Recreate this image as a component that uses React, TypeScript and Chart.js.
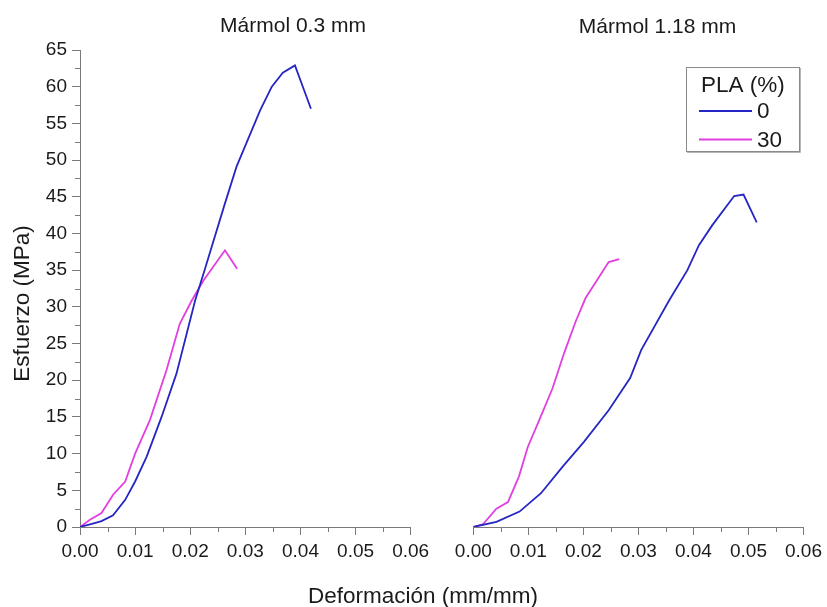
import { useEffect, useRef } from "react";
import { Chart, registerables } from "chart.js";

Chart.register(...registerables);

const FONT = '"Liberation Sans", Arial, Helvetica, sans-serif';
const INK = "#1a1a1a";
const AXIS = "#7a7a7a";

const SERIES_LABELS = ["0", "30"];
const SERIES_COLORS = ["#2626c4", "#e23fe0"];
const LEGEND_TITLE = "PLA (%)";

const PANEL_TITLES = ["Mármol 0.3 mm", "Mármol 1.18 mm"];
const X_TITLE = "Deformación (mm/mm)";
const Y_TITLE = "Esfuerzo (MPa)";

const X_TICKS = [0, 0.01, 0.02, 0.03, 0.04, 0.05, 0.06];
const Y_TICKS = [0, 5, 10, 15, 20, 25, 30, 35, 40, 45, 50, 55, 60, 65];

// Mármol 0.3 mm — PLA 0 %
const strainA0 = [0, 0.002, 0.0039, 0.006, 0.0082, 0.01, 0.0121, 0.0148, 0.0175, 0.0209, 0.0226, 0.0263, 0.0284, 0.0327, 0.0348, 0.0368, 0.039, 0.0419];
const stressA0 = [0, 0.4, 0.8, 1.6, 3.7, 6.2, 9.6, 15.0, 20.9, 30.9, 35.0, 44.1, 49.1, 56.8, 60.0, 61.9, 62.9, 57.0];

// Mármol 0.3 mm — PLA 30 %
const strainA30 = [0, 0.0018, 0.0039, 0.006, 0.0082, 0.01, 0.0127, 0.0157, 0.0181, 0.0203, 0.0224, 0.0263, 0.0285];
const stressA30 = [0, 1.0, 1.9, 4.4, 6.2, 10.0, 14.6, 21.4, 27.7, 30.9, 33.6, 37.7, 35.2];

// Mármol 1.18 mm — PLA 0 %
const strainB0 = [0, 0.0042, 0.0084, 0.0123, 0.0162, 0.0201, 0.0246, 0.0285, 0.0305, 0.0356, 0.0389, 0.041, 0.0434, 0.0474, 0.0491, 0.0515];
const stressB0 = [0, 0.7, 2.1, 4.6, 8.2, 11.6, 15.9, 20.3, 24.1, 30.9, 35.0, 38.4, 41.1, 45.1, 45.3, 41.5];

// Mármol 1.18 mm — PLA 30 %
const strainB30 = [0, 0.0018, 0.0042, 0.0063, 0.0083, 0.0099, 0.012, 0.0144, 0.0165, 0.0186, 0.0204, 0.0246, 0.0265];
const stressB30 = [0, 0.4, 2.5, 3.4, 6.9, 10.9, 14.6, 18.9, 23.7, 28.0, 31.2, 36.1, 36.5];

const W = 827;
const H = 607;

const points = (xs: number[], ys: number[]) => xs.map((x, i) => ({ x, y: ys[i] }));

const makeDatasets = (curves: [number[], number[]][]) =>
  curves.map(([xs, ys], i) => ({
    label: SERIES_LABELS[i],
    data: points(xs, ys),
    borderColor: SERIES_COLORS[i],
    backgroundColor: SERIES_COLORS[i],
    borderWidth: 1.8,
    pointRadius: 0,
    tension: 0,
    fill: false,
  }));

// Half-step tick marks between the labelled ticks
const minorTicks = {
  id: "minorTicks",
  afterDraw(chart: any, _args: any, opts: any) {
    const ctx = chart.ctx;
    ctx.save();
    ctx.strokeStyle = AXIS;
    ctx.lineWidth = 1;
    const xs = chart.scales.x;
    const area = chart.chartArea;
    for (let i = 0; i < X_TICKS.length - 1; i++) {
      const v = (X_TICKS[i] + X_TICKS[i + 1]) / 2;
      const px = Math.round(xs.getPixelForValue(v)) + 0.5;
      ctx.beginPath();
      ctx.moveTo(px, area.bottom);
      ctx.lineTo(px, area.bottom + opts.length);
      ctx.stroke();
    }
    if (opts.yAxis) {
      const ys = chart.scales.y;
      for (let i = 0; i < Y_TICKS.length - 1; i++) {
        const v = (Y_TICKS[i] + Y_TICKS[i + 1]) / 2;
        const py = Math.round(ys.getPixelForValue(v)) + 0.5;
        ctx.beginPath();
        ctx.moveTo(area.left, py);
        ctx.lineTo(area.left - opts.length, py);
        ctx.stroke();
      }
    }
    ctx.restore();
  },
};

// Free text: panel titles and the shared axis titles
const labels = {
  id: "labels",
  afterDraw(chart: any, _args: any, opts: any) {
    const ctx = chart.ctx;
    ctx.save();
    ctx.fillStyle = INK;
    for (const t of opts.items || []) {
      ctx.save();
      ctx.font = `${t.size}px ${FONT}`;
      ctx.textAlign = "center";
      ctx.textBaseline = t.baseline || "alphabetic";
      ctx.translate(t.x, t.y);
      if (t.rotate) ctx.rotate(t.rotate);
      ctx.fillText(t.text, 0, 0);
      ctx.restore();
    }
    ctx.restore();
  },
};

// Boxed legend with a title line
const boxedLegend = {
  id: "boxedLegend",
  afterDraw(chart: any, _args: any, opts: any) {
    if (!opts.show) return;
    const ctx = chart.ctx;
    const { left, top, width, height } = opts;
    ctx.save();
    ctx.fillStyle = "#ffffff";
    ctx.fillRect(left, top, width, height);
    ctx.strokeStyle = "#8a8a8a";
    ctx.lineWidth = 1;
    ctx.strokeRect(left + 0.5, top + 0.5, width, height);
    ctx.strokeStyle = "#b5b5b5";
    ctx.beginPath();
    ctx.moveTo(left + 1, top + height + 1.5);
    ctx.lineTo(left + width + 1.5, top + height + 1.5);
    ctx.lineTo(left + width + 1.5, top + 1);
    ctx.stroke();

    ctx.fillStyle = INK;
    ctx.font = `${opts.fontSize}px ${FONT}`;
    ctx.textBaseline = "alphabetic";
    ctx.textAlign = "left";
    ctx.fillText(LEGEND_TITLE, left + 15, top + 25);

    chart.data.datasets.forEach((ds: any, i: number) => {
      const cy = top + 44 + i * 28.5;
      ctx.strokeStyle = ds.borderColor;
      ctx.lineWidth = 2;
      ctx.beginPath();
      ctx.moveTo(left + 13, cy);
      ctx.lineTo(left + 66, cy);
      ctx.stroke();
      ctx.fillStyle = INK;
      ctx.textBaseline = "middle";
      ctx.fillText(ds.label, left + 71, cy + 1);
    });
    ctx.restore();
  },
};

function buildConfig(panel: 0 | 1): any {
  const isLeft = panel === 0;
  const curves: [number[], number[]][] = isLeft
    ? [
        [strainA0, stressA0],
        [strainA30, stressA30],
      ]
    : [
        [strainB0, stressB0],
        [strainB30, stressB30],
      ];

  const tickFont = { family: FONT, size: 19 };

  const items: any[] = [
    isLeft
      ? { text: PANEL_TITLES[0], x: 293, y: 32, size: 21 }
      : { text: PANEL_TITLES[1], x: 657.5, y: 33, size: 21 },
  ];
  if (isLeft) {
    items.push({ text: X_TITLE, x: 423, y: 603, size: 22.5 });
    items.push({ text: Y_TITLE, x: 29, y: 303.5, size: 22.5, rotate: -Math.PI / 2 });
  }

  const yScale: any = {
    type: "linear",
    display: isLeft,
    min: 0,
    max: 65,
    afterBuildTicks: (s: any) => {
      s.ticks = Y_TICKS.map((v) => ({ value: v }));
    },
    ticks: {
      font: tickFont,
      color: INK,
      padding: 5,
      autoSkip: false,
    },
    grid: {
      display: true,
      drawOnChartArea: false,
      drawTicks: true,
      tickLength: 8,
      color: AXIS,
    },
    border: { display: true, color: AXIS, width: 1 },
  };
  if (isLeft) {
    yScale.afterFit = (s: any) => {
      s.width = 80;
    };
  }

  return {
    type: "line",
    data: { datasets: makeDatasets(curves) },
    plugins: [minorTicks, labels, boxedLegend],
    options: {
      responsive: false,
      animation: false,
      events: [],
      layout: {
        padding: isLeft
          ? { left: 0, top: 50, right: W - 410.7, bottom: 40 }
          : { left: 473.3, top: 50, right: W - 807.3, bottom: 40 },
      },
      scales: {
        x: {
          type: "linear",
          min: 0,
          max: 0.06,
          afterBuildTicks: (s: any) => {
            s.ticks = X_TICKS.map((v) => ({ value: v }));
          },
          ticks: {
            callback: (v: any) => Number(v).toFixed(2),
            font: tickFont,
            color: INK,
            padding: 5,
            maxRotation: 0,
            autoSkip: false,
          },
          grid: {
            display: true,
            drawOnChartArea: false,
            drawTicks: true,
            tickLength: 8,
            color: AXIS,
          },
          border: { display: true, color: AXIS, width: 1 },
          afterFit: (s: any) => {
            s.height = 40;
          },
        },
        y: yScale,
      },
      plugins: {
        legend: { display: false },
        tooltip: { enabled: false },
        title: { display: false },
        minorTicks: { length: 5, yAxis: isLeft },
        labels: { items },
        boxedLegend: {
          show: !isLeft,
          left: 686,
          top: 67,
          width: 113,
          height: 84,
          fontSize: 22.5,
        },
      },
    },
  };
}

function Panel({ panel }: { panel: 0 | 1 }) {
  const ref = useRef<HTMLCanvasElement | null>(null);
  useEffect(() => {
    if (!ref.current) return;
    const chart = new Chart(ref.current, buildConfig(panel));
    return () => chart.destroy();
  }, [panel]);
  return (
    <canvas
      ref={ref}
      width={W}
      height={H}
      style={{ position: "absolute", left: 0, top: 0, width: W, height: H }}
    />
  );
}

export default function App() {
  return (
    <div
      style={{
        position: "absolute",
        left: 0,
        top: 0,
        width: W,
        height: H,
        background: "#ffffff",
        overflow: "hidden",
      }}
    >
      <Panel panel={0} />
      <Panel panel={1} />
    </div>
  );
}
